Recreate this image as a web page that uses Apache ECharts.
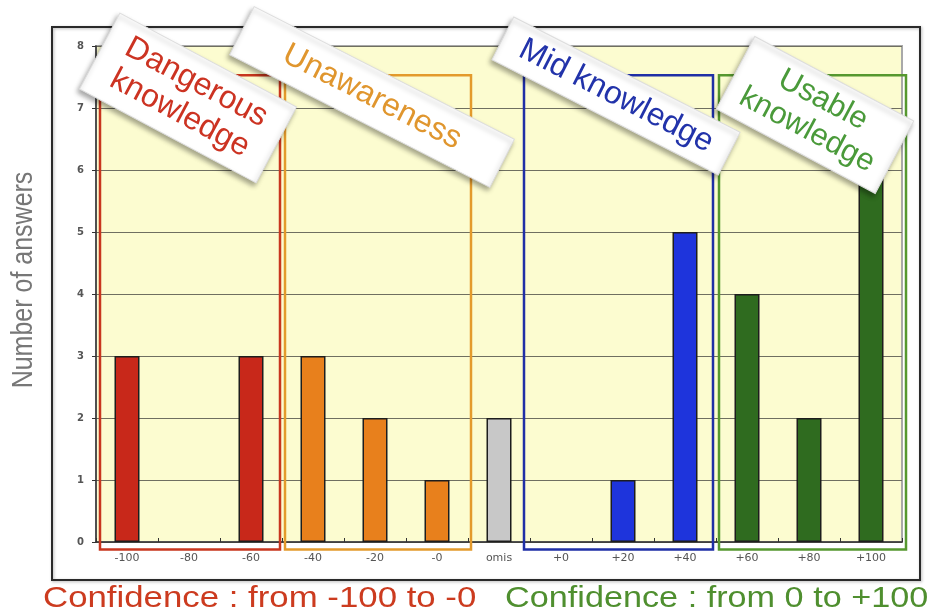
<!DOCTYPE html>
<html>
<head>
<meta charset="utf-8">
<script src="https://cdn.jsdelivr.net/npm/echarts@6/dist/echarts.min.js"></script>
<style>
html,body{margin:0;padding:0;background:#fff;}
#chart{width:939px;height:616px;}
</style>
</head>
<body>
<div id="chart"></div>
<script>
// ---- data ----
const categories = ['-100','-80','-60','-40','-20','-0','omis','+0','+20','+40','+60','+80','+100'];
const answers = [3, 0, 3, 3, 2, 1, 2, 0, 1, 5, 4, 2, 6];
const yTicks = [0, 1, 2, 3, 4, 5, 6, 7, 8];
const groupLabels = ['Dangerous\nknowledge', 'Unawareness', 'Mid knowledge', 'Usable\nknowledge'];
const groupFrom = ['-100', '-40', '+0', '+60'];
const groupTo = ['-60', '-0', '+40', '+100'];
const axisTitle = 'Number of answers';
const footerLeft = 'Confidence : from -100 to -0';
const footerRight = 'Confidence : from 0 to +100';

// ---- styles ----
const groupBoxColors = ['#c8361e', '#e39a2c', '#1f2fa6', '#56982f'];
const groupBarColors = ['#c8281a', '#e8801c', '#1e34dc', '#2f6b1f'];
const omisColor = '#c8c8c8';
const boxNudge = [[4, -2], [3, 3], [-6, -3], [3, 4]]; // px nudges [left,right]
const boxTop = 7.53, boxBottom = -0.12;
const cardStyle = [
  {x: 188, y: 98, w: 200, h: 86, rot: 28, color: '#cc3322', fs: 32, lh: 35},
  {x: 372, y: 97, w: 292, h: 54, rot: 27, color: '#e0962e', fs: 32, lh: 35},
  {x: 616, y: 96, w: 254, h: 48, rot: 27, color: '#2233aa', fs: 32, lh: 35},
  {x: 815, y: 115, w: 180, h: 82, rot: 28, color: '#4a9a3a', fs: 31, lh: 34}
];

function groupOf(i) {
  for (let g = 0; g < groupFrom.length; g++) {
    const a = categories.indexOf(groupFrom[g]), b = categories.indexOf(groupTo[g]);
    if (i >= a && i <= b) return g;
  }
  return -1;
}

const barData = answers.map((v, i) => {
  const g = groupOf(i);
  return {value: v, itemStyle: {color: g < 0 ? omisColor : groupBarColors[g], borderWidth: v === 0 ? 0 : 1.5}};
});

const boxData = groupFrom.map((f, g) => [categories.indexOf(f), categories.indexOf(groupTo[g]), g]);

const font = "'Liberation Sans', Arial, sans-serif";

// order: Unawareness below Dangerous
const cardOrder = [1, 0, 2, 3];
const cards = cardOrder.map((g, k) => {
  const s = cardStyle[g];
  return {
    type: 'group', x: s.x, y: s.y, rotation: -s.rot * Math.PI / 180, z: 100 + k,
    children: [
      {type: 'rect', z: 100 + k, shape: {x: -s.w / 2, y: -s.h / 2, width: s.w, height: s.h},
       style: {fill: '#ffffff', stroke: '#dddddd', lineWidth: 1, shadowBlur: 5, shadowOffsetX: -2, shadowOffsetY: 3, shadowColor: 'rgba(0,0,0,0.35)'}},
      {type: 'text', z: 100 + k, x: 0, y: 0,
       style: {text: groupLabels[g], fill: s.color, font: s.fs + 'px ' + font, lineHeight: s.lh, textAlign: 'center', textVerticalAlign: 'middle', align: 'center', verticalAlign: 'middle'}}
    ]
  };
});

const chart = echarts.init(document.getElementById('chart'));
chart.setOption({
  animation: false,
  backgroundColor: '#ffffff',
  grid: {left: 96, right: 37, top: 46, bottom: 74, show: true, backgroundColor: '#fcfcd0', borderColor: '#a9a9a9', borderWidth: 2},
  xAxis: {
    type: 'category', data: categories,
    axisLine: {lineStyle: {color: '#333', width: 1.5}},
    axisTick: {show: true, inside: true, length: 4, lineStyle: {color: '#333'}},
    axisLabel: {color: '#555', fontSize: 11, fontFamily: 'DejaVu Sans', margin: 11}
  },
  yAxis: {
    type: 'value', min: yTicks[0], max: yTicks[yTicks.length - 1], interval: 1,
    axisLine: {show: true, lineStyle: {color: '#333', width: 1.5}},
    axisTick: {show: true, length: 4, lineStyle: {color: '#333'}},
    axisLabel: {color: '#555', fontSize: 10, fontWeight: 'bold', fontFamily: 'DejaVu Sans', margin: 12},
    splitLine: {lineStyle: {color: '#6f6f60', width: 1}}
  },
  series: [
    {type: 'bar', data: barData, barWidth: 25, z: 3,
     itemStyle: {borderColor: '#1d1d1d'}},
    {type: 'custom', data: boxData, clip: false, z: 4, silent: true,
     renderItem: function (params, api) {
       const a = api.value(0), b = api.value(1), g = api.value(2);
       const bw = api.size([1, 0])[0];
       const p0 = api.coord([a, boxTop]);
       const p1 = api.coord([b, boxBottom]);
       const x0 = p0[0] - bw / 2 + boxNudge[g][0];
       const x1 = p1[0] + bw / 2 + boxNudge[g][1];
       return {type: 'rect', shape: {x: x0, y: p0[1], width: x1 - x0, height: p1[1] - p0[1]},
               style: {fill: 'none', stroke: groupBoxColors[g], lineWidth: 2.5}};
     }}
  ],
  graphic: [
    {type: 'rect', z: 90, shape: {x: 52, y: 27, width: 868, height: 553},
     style: {fill: 'none', stroke: '#2a2a2a', lineWidth: 2, shadowBlur: 3, shadowOffsetX: 1, shadowOffsetY: 1, shadowColor: 'rgba(0,0,0,0.3)'}},
    {type: 'text', x: 24, y: 280, rotation: Math.PI / 2, scaleY: 1.15, z: 100,
     style: {text: axisTitle, fill: '#777777', font: '25px ' + font, textAlign: 'center', textVerticalAlign: 'middle', align: 'center', verticalAlign: 'middle'}},
    {type: 'text', x: 43, y: 599, scaleX: 1.2, z: 100,
     style: {text: footerLeft, fill: '#cc3b1f', font: '29px ' + font, textAlign: 'left', textVerticalAlign: 'middle', align: 'left', verticalAlign: 'middle'}},
    {type: 'text', x: 505, y: 599, scaleX: 1.18, z: 100,
     style: {text: footerRight, fill: '#4f8f2f', font: '29px ' + font, textAlign: 'left', textVerticalAlign: 'middle', align: 'left', verticalAlign: 'middle'}}
  ].concat(cards)
});
</script>
</body>
</html>
